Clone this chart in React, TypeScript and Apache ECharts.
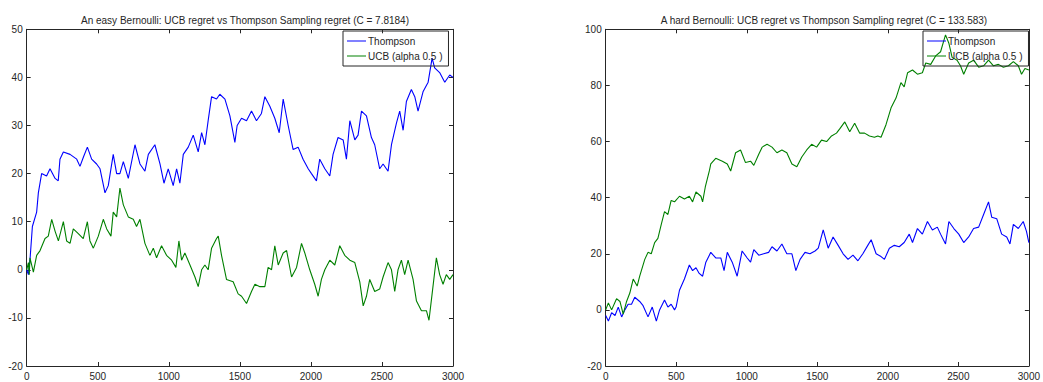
import React, { useEffect, useRef } from "react";
import * as echarts from "echarts";

const seriesNames = ["Thompson", "UCB (alpha 0.5 )"];
const titles = [
  "An easy Bernoulli: UCB regret vs Thompson Sampling regret (C = 7.8184)",
  "A hard Bernoulli: UCB regret vs Thompson Sampling regret (C = 133.583)",
];
const xTicks = { min: 0, max: 3000, interval: 500 };
const yEasy = { min: -20, max: 50, interval: 10 };
const yHard = { min: -20, max: 100, interval: 20 };

const easyThompson: [number, number][] = [
  [0, 0], [12, -1], [23, 2], [40, 9], [70, 12], [82, 16], [105, 20], [140, 19.5], [164, 21], [200, 19],
  [222, 18.5], [234, 23], [258, 24.5], [305, 24], [352, 23], [375, 21.5], [400, 23.5], [427, 25.5],
  [457, 23], [492, 22], [516, 21], [551, 16], [574, 17.5], [609, 24], [633, 20], [656, 20], [680, 22.5],
  [715, 19], [762, 26], [797, 22], [832, 20.5], [856, 24], [902, 26], [938, 22], [966, 18], [996, 21],
  [1031, 17.5], [1055, 21], [1078, 18], [1102, 24], [1137, 25.5], [1172, 28], [1207, 24.5], [1231, 28.5],
  [1254, 26], [1277, 31], [1301, 36], [1336, 35.5], [1359, 36.5], [1395, 35.5], [1430, 32], [1465, 26.5],
  [1481, 30], [1512, 31.5], [1547, 31], [1582, 33], [1617, 31], [1652, 32.5], [1676, 36], [1711, 34],
  [1746, 31.5], [1777, 28.5], [1805, 35.5], [1840, 30], [1875, 25], [1910, 25.5], [1945, 23], [1981, 21],
  [2004, 20], [2039, 18.5], [2062, 23], [2098, 21], [2133, 19.5], [2156, 24], [2191, 27.5], [2227, 27],
  [2250, 23], [2274, 31], [2309, 27], [2332, 28], [2356, 33], [2391, 32], [2426, 27.5], [2449, 26],
  [2484, 21], [2508, 22], [2543, 20.5], [2567, 26], [2602, 30.5], [2625, 33], [2649, 29], [2672, 35],
  [2707, 37.5], [2731, 36], [2754, 33], [2789, 37], [2825, 39], [2853, 44], [2871, 42], [2906, 41],
  [2942, 39], [2977, 40.5], [3000, 40],
];

const easyUCB: [number, number][] = [
  [0, 0], [12, 1.5], [18, -1], [23, 2.5], [47, -0.5], [70, 3], [94, 4], [129, 6.5], [152, 7], [176, 10.5],
  [200, 8], [223, 6], [258, 10], [281, 6], [305, 5.5], [328, 8.5], [363, 7.5], [398, 6.5], [427, 10],
  [445, 6], [469, 4.5], [504, 7], [539, 10.5], [563, 8.5], [593, 7], [609, 12], [633, 11], [656, 17],
  [680, 13.5], [715, 11], [750, 10.5], [773, 9], [797, 10.5], [832, 5.5], [867, 3], [891, 4.5], [914, 2.5],
  [949, 5], [984, 3], [1020, 2], [1050, 0.5], [1071, 6], [1090, 2], [1113, 3.5], [1149, 1], [1184, -1.5],
  [1207, -3.5], [1231, 0], [1254, 1], [1277, 0], [1301, 4.5], [1336, 6.5], [1348, 7], [1371, 3],
  [1406, -2], [1453, -2.5], [1488, -5], [1512, -5.5], [1547, -7], [1582, -4.5], [1606, -3], [1641, -3.5],
  [1676, -3.5], [1699, 0.5], [1723, 0], [1746, 5], [1770, 1], [1805, 3.5], [1829, 4], [1864, -1.5],
  [1899, 0.5], [1934, 5.5], [1957, 3.5], [1992, 0], [2027, -3], [2051, -5.5], [2074, -2], [2098, 0],
  [2133, 2], [2168, 1], [2203, 5], [2238, 3], [2274, 2], [2309, 1.5], [2344, -2.5], [2368, -7.5],
  [2391, -5.5], [2414, -2], [2449, -4.5], [2484, -4], [2508, -1.5], [2543, 1.5], [2567, 0], [2590, -4.5],
  [2613, 0], [2637, 2], [2660, -1], [2684, 2], [2719, -2], [2743, -6.5], [2778, -8.5], [2813, -8.5],
  [2831, -10.5], [2853, -5], [2883, 2.5], [2906, -1], [2930, -3], [2953, -1], [2977, -2], [3000, -1],
];

const hardThompson: [number, number][] = [
  [0, -2], [19, -4], [42, -1], [66, -2], [89, 1], [113, -2.5], [136, 0], [159, 2], [183, 2], [206, 4.5],
  [241, 3], [265, 1.5], [300, -2.5], [330, 1], [359, -4], [382, 0], [417, 3.5], [441, 1], [464, 2],
  [488, 0], [499, 1], [523, 7], [558, 11], [593, 16], [616, 14], [640, 15], [663, 13], [687, 12],
  [710, 17], [745, 20.5], [780, 18.5], [816, 18.5], [839, 14], [862, 20.5], [897, 17], [932, 12],
  [967, 21], [1003, 18.5], [1027, 17], [1050, 21.5], [1085, 19.5], [1120, 20], [1155, 20.5], [1179, 22.5],
  [1214, 21], [1249, 23.5], [1284, 20], [1320, 20], [1348, 14], [1378, 18], [1413, 20.5], [1448, 20],
  [1484, 21], [1507, 22], [1542, 28.5], [1577, 22], [1612, 26], [1648, 23], [1683, 20], [1718, 18],
  [1753, 19.5], [1788, 17.5], [1823, 20], [1858, 23], [1882, 25], [1917, 20], [1952, 19], [1976, 18],
  [2011, 22], [2046, 23], [2081, 22.5], [2116, 24], [2152, 27], [2175, 24], [2210, 29], [2245, 27],
  [2281, 31.5], [2316, 28.5], [2351, 29.5], [2374, 27], [2409, 23.5], [2433, 31.5], [2468, 29],
  [2503, 27], [2538, 24], [2573, 26], [2608, 29], [2644, 29.5], [2679, 34], [2714, 38.5], [2737, 33],
  [2772, 32.5], [2807, 27], [2843, 26], [2866, 23.5], [2890, 30.5], [2925, 29], [2960, 31.5], [2983, 28],
  [3000, 24],
];

const hardUCB: [number, number][] = [
  [0, 0], [19, 2.5], [42, 0], [77, 4], [101, 3], [124, -1.5], [148, 3], [171, 6], [195, 11], [223, 8.5],
  [241, 12], [277, 18], [300, 20.5], [323, 20], [347, 24], [370, 25.5], [394, 30.5], [417, 35], [441, 34],
  [464, 39], [488, 38.5], [523, 40.5], [558, 39.5], [593, 40.5], [616, 38.5], [640, 42], [675, 40.5],
  [687, 38.5], [706, 43.8], [736, 49.8], [745, 52], [780, 54], [827, 53], [862, 52], [886, 49.5],
  [921, 56], [956, 57], [991, 52.5], [1027, 53], [1050, 51.5], [1085, 55.5], [1109, 58], [1144, 59],
  [1179, 58], [1214, 56], [1249, 57], [1284, 56], [1320, 52], [1355, 51], [1390, 54.5], [1425, 57],
  [1460, 59], [1495, 58], [1530, 60.5], [1566, 60], [1601, 62], [1636, 63], [1659, 64.5], [1695, 67],
  [1730, 63.5], [1765, 66.5], [1800, 63], [1835, 63], [1870, 62], [1905, 61.5], [1929, 62], [1952, 61.5],
  [1987, 66], [2023, 72], [2058, 75.5], [2093, 81], [2116, 79.5], [2140, 84.5], [2175, 85.5], [2210, 84],
  [2245, 84.5], [2269, 88], [2304, 87.5], [2339, 90.5], [2374, 92], [2409, 98], [2433, 95], [2456, 90],
  [2491, 89], [2515, 87], [2538, 84], [2573, 88], [2608, 89], [2644, 86.5], [2679, 87], [2714, 89],
  [2749, 87], [2784, 87.5], [2819, 86.5], [2855, 87], [2890, 88.5], [2925, 87], [2948, 84], [2972, 86],
  [3000, 85.5],
];

const BLUE = "#0000ff";
const GREEN = "#008000";
const AX = "#262626";
const FONT = "Liberation Sans, Arial, sans-serif";

export default function App() {
  const ref = useRef<HTMLDivElement>(null);
  useEffect(() => {
    document.body.style.margin = "0";
    if (!ref.current) return;
    const chart = echarts.init(ref.current, null, { renderer: "svg" });
    const grids = [
      { left: 26.7, top: 29.3, width: 426.3, height: 336.7 },
      { left: 605.7, top: 29.3, width: 426.3, height: 336.7 },
    ];
    const axisLine = { show: true, onZero: false, lineStyle: { color: AX, width: 1 } };
    const tick = { show: true, inside: true, length: 4, lineStyle: { color: AX } };
    const label = { color: AX, fontSize: 10, fontFamily: FONT, formatter: (v: number) => String(v) };
    const xAxes: any[] = [];
    const yAxes: any[] = [];
    [0, 1].forEach((g) => {
      const yr = g === 0 ? yEasy : yHard;
      xAxes.push({ type: "value", gridIndex: g, position: "bottom", ...xTicks, axisLine, axisTick: tick, axisLabel: { ...label, margin: 5 }, splitLine: { show: false } });
      xAxes.push({ type: "value", gridIndex: g, position: "top", ...xTicks, axisLine, axisTick: tick, axisLabel: { show: false }, splitLine: { show: false } });
      yAxes.push({ type: "value", gridIndex: g, position: "left", ...yr, axisLine, axisTick: tick, axisLabel: { ...label, margin: 4 }, splitLine: { show: false } });
      yAxes.push({ type: "value", gridIndex: g, position: "right", ...yr, axisLine, axisTick: tick, axisLabel: { show: false }, splitLine: { show: false } });
    });
    const mk = (name: string, data: [number, number][], color: string, g: number) => ({
      type: "line",
      name,
      data,
      xAxisIndex: g * 2,
      yAxisIndex: g * 2,
      showSymbol: false,
      symbol: "none",
      lineStyle: { color, width: 1.1 },
      itemStyle: { color },
    });
    const legend = (left: number) => ({
      left,
      top: 31,
      orient: "vertical",
      data: seriesNames,
      icon: "rect",
      itemWidth: 19,
      itemHeight: 1,
      itemGap: 5,
      padding: [5, 6, 5, 4],
      borderColor: AX,
      borderWidth: 1,
      backgroundColor: "transparent",
      textStyle: { fontSize: 10, fontFamily: FONT, color: AX, padding: [0, 0, 0, -3] },
      selectedMode: false,
    });
    chart.setOption({
      animation: false,
      backgroundColor: "#fff",
      title: [
        { text: titles[0], left: 240, top: 10, textAlign: "center", textStyle: { fontSize: 10, fontWeight: "normal", color: AX, fontFamily: FONT } },
        { text: titles[1], left: 819, top: 10, textAlign: "center", textStyle: { fontSize: 10, fontWeight: "normal", color: AX, fontFamily: FONT } },
      ],
      legend: [legend(343), legend(923)],
      grid: grids,
      xAxis: xAxes,
      yAxis: yAxes,
      series: [
        mk(seriesNames[0], easyThompson, BLUE, 0),
        mk(seriesNames[1], easyUCB, GREEN, 0),
        mk(seriesNames[0], hardThompson, BLUE, 1),
        mk(seriesNames[1], hardUCB, GREEN, 1),
      ],
    });
    return () => chart.dispose();
  }, []);
  return <div ref={ref} style={{ position: "fixed", left: 0, top: 0, width: 1043, height: 382 }} />;
}
